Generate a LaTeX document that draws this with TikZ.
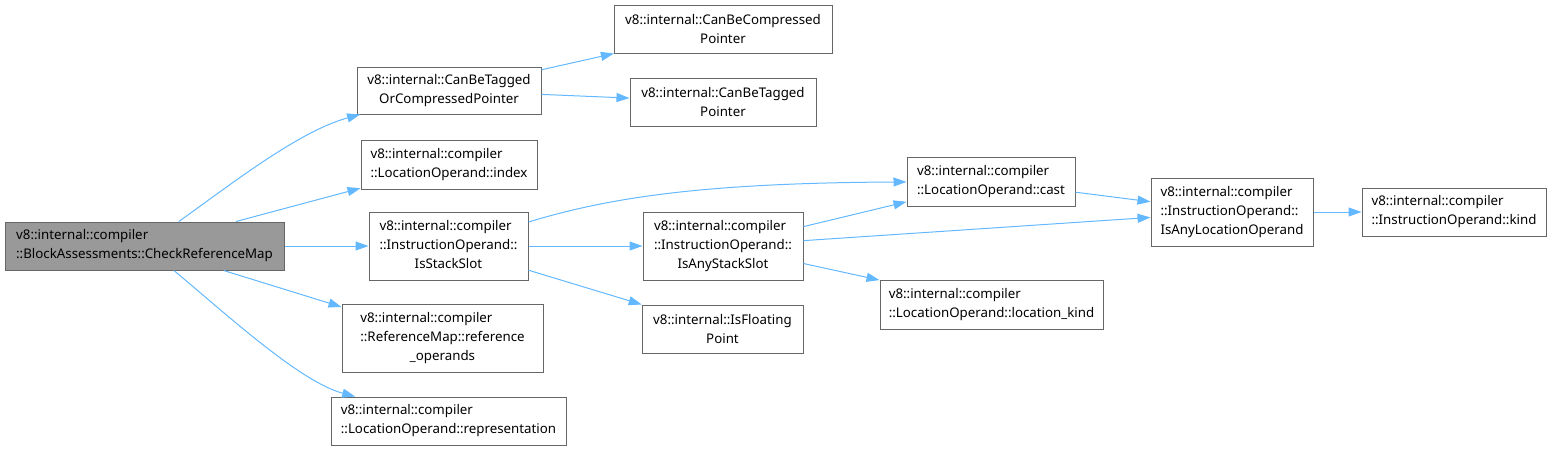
\documentclass[tikz,border=0pt]{standalone}
\usepackage{fontspec}
\setmainfont{Noto Sans}
\usetikzlibrary{arrows.meta}
\definecolor{edgeblue}{HTML}{63B8FF}
\definecolor{boxgray}{HTML}{666666}
\definecolor{mainfill}{HTML}{999999}
\newcommand{\lastline}[1]{\multicolumn{1}{@{}c@{}}{#1}}
\tikzset{
  fnbox/.style={draw=boxgray, fill=white, line width=1pt, inner sep=0pt,
                font=\fontsize{13.3}{19}\selectfont, text=black},
  fnmain/.style={fnbox, fill=mainfill},
  callarr/.style={-{Triangle[length=13pt,width=9pt]}, draw=edgeblue, line width=1pt},
}

\begin{document}
\begin{tikzpicture}[x=1pt,y=-1pt]
\useasboundingbox (0,0) rectangle (1553,451);
\node[fnmain, minimum width=279pt, minimum height=48pt, align=left] (main) at (144.5,246)
  {v8::internal::compiler\\::BlockAssessments::CheckReferenceMap};
\node[fnbox, minimum width=184pt, minimum height=47pt, align=center] (ctc) at (449,90.5)
  {v8::internal::CanBeTagged\\OrCompressedPointer};
\node[fnbox, minimum width=218pt, minimum height=48pt, align=center] (cbc) at (723,29)
  {v8::internal::CanBeCompressed\\Pointer};
\node[fnbox, minimum width=186pt, minimum height=48pt, align=center] (cbt) at (723,102)
  {v8::internal::CanBeTagged\\Pointer};
\node[fnbox, minimum width=176pt, minimum height=49pt, align=left] (idx) at (449,164.5)
  {v8::internal::compiler\\::LocationOperand::index};
\node[fnbox, minimum width=159pt, minimum height=68pt] (iss) at (448.5,246)
  {\begin{tabular}{@{}l@{}}v8::internal::compiler\\::InstructionOperand::\\\lastline{IsStackSlot}\end{tabular}};
\node[fnbox, minimum width=160pt, minimum height=68pt] (iass) at (723,246)
  {\begin{tabular}{@{}l@{}}v8::internal::compiler\\::InstructionOperand::\\\lastline{IsAnyStackSlot}\end{tabular}};
\node[fnbox, minimum width=168pt, minimum height=49pt, align=left] (cast) at (991,181.5)
  {v8::internal::compiler\\::LocationOperand::cast};
\node[fnbox, minimum width=162pt, minimum height=68pt] (ialo) at (1232,212)
  {\begin{tabular}{@{}l@{}}v8::internal::compiler\\::InstructionOperand::\\\lastline{IsAnyLocationOperand}\end{tabular}};
\node[fnbox, minimum width=184pt, minimum height=48pt, align=left] (kind) at (1454,212)
  {v8::internal::compiler\\::InstructionOperand::kind};
\node[fnbox, minimum width=223pt, minimum height=49pt, align=left] (lkind) at (991.5,304.5)
  {v8::internal::compiler\\::LocationOperand::location\_kind};
\node[fnbox, minimum width=161pt, minimum height=48pt, align=center] (ifp) at (722.5,329)
  {v8::internal::IsFloating\\Point};
\node[fnbox, minimum width=201pt, minimum height=68pt] (refop) at (442.5,338)
  {\begin{tabular}{@{}l@{}}v8::internal::compiler\\::ReferenceMap::reference\\\lastline{\_operands}\end{tabular}};
\node[fnbox, minimum width=235pt, minimum height=48pt, align=left] (repr) at (448.5,421)
  {v8::internal::compiler\\::LocationOperand::representation};
\draw[callarr] (main) .. controls (230,185) and (299,131) .. (ctc);
\draw[callarr] (main) -- (idx);
\draw[callarr] (main) -- (iss);
\draw[callarr] (main) -- (refop);
\draw[callarr] (main) .. controls (225,313) and (300,382) .. (repr);
\draw[callarr] (ctc) -- (cbc);
\draw[callarr] (ctc) -- (cbt);
\draw[callarr] (iss) .. controls (608,198) and (700,183) .. (cast);
\draw[callarr] (iss) -- (iass);
\draw[callarr] (iss) -- (ifp);
\draw[callarr] (iass) -- (cast);
\draw[callarr] (iass) -- (ialo);
\draw[callarr] (iass) -- (lkind);
\draw[callarr] (cast) -- (ialo);
\draw[callarr] (ialo) -- (kind);
\end{tikzpicture}
\end{document}
